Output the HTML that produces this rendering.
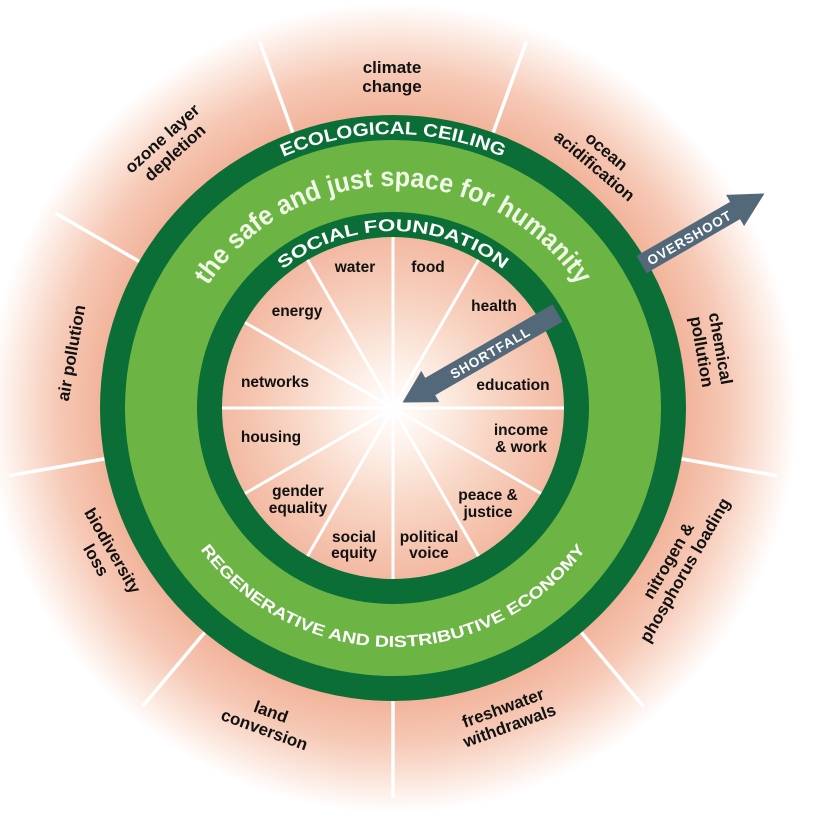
<!DOCTYPE html>
<html><head><meta charset="utf-8"><style>
html,body{margin:0;padding:0;background:#fff;}
svg{display:block;}
text{font-family:"Liberation Sans",Arial,sans-serif;font-weight:bold;}
</style></head><body>
<svg width="815" height="823" viewBox="0 0 815 823" xmlns="http://www.w3.org/2000/svg">
<defs>
<radialGradient id="og" cx="393" cy="408" r="405" gradientUnits="userSpaceOnUse">
<stop offset="0.72" stop-color="#f2b39a"/>
<stop offset="0.83" stop-color="#f6c9b6"/>
<stop offset="0.93" stop-color="#fce9e0"/>
<stop offset="1" stop-color="#ffffff"/>
</radialGradient>
<radialGradient id="ig" cx="393" cy="408" r="171" gradientUnits="userSpaceOnUse">
<stop offset="0" stop-color="#ffffff"/>
<stop offset="0.25" stop-color="#fdf0e8"/>
<stop offset="0.6" stop-color="#f8d4c3"/>
<stop offset="1" stop-color="#f3b9a2"/>
</radialGradient>
<path id="pEco" d="M119 408 A274 274 0 0 1 667 408"/>
<path id="pSafe" d="M171 408 A222 222 0 0 1 615 408"/>
<path id="pSoc" d="M216 408 A177 177 0 0 1 570 408"/>
<path id="pReg" d="M154 408 A239 239 0 0 0 632 408"/>
</defs>
<circle cx="393" cy="408" r="405" fill="url(#og)"/>
<g stroke="#fff" stroke-width="3.5">
<g transform="rotate(20 393 408)"><line x1="393" y1="115" x2="393" y2="18"/></g>
<g transform="rotate(60 393 408)"><line x1="393" y1="115" x2="393" y2="18"/></g>
<g transform="rotate(100 393 408)"><line x1="393" y1="115" x2="393" y2="18"/></g>
<g transform="rotate(140 393 408)"><line x1="393" y1="115" x2="393" y2="18"/></g>
<g transform="rotate(180 393 408)"><line x1="393" y1="115" x2="393" y2="18"/></g>
<g transform="rotate(220 393 408)"><line x1="393" y1="115" x2="393" y2="18"/></g>
<g transform="rotate(260 393 408)"><line x1="393" y1="115" x2="393" y2="18"/></g>
<g transform="rotate(300 393 408)"><line x1="393" y1="115" x2="393" y2="18"/></g>
<g transform="rotate(340 393 408)"><line x1="393" y1="115" x2="393" y2="18"/></g>
</g>
<circle cx="393" cy="408" r="293" fill="#0b6e37"/>
<circle cx="393" cy="408" r="268" fill="#6cb545"/>
<circle cx="393" cy="408" r="196" fill="#0b6e37"/>
<circle cx="393" cy="408" r="171" fill="url(#ig)"/>
<g stroke="#fff" stroke-width="3">
<line x1="393" y1="237" x2="393" y2="579"/>
<line x1="222" y1="408" x2="564" y2="408"/>
<g transform="rotate(30 393 408)"><line x1="393" y1="237" x2="393" y2="579"/><line x1="222" y1="408" x2="564" y2="408"/></g>
<g transform="rotate(60 393 408)"><line x1="393" y1="237" x2="393" y2="579"/><line x1="222" y1="408" x2="564" y2="408"/></g>
</g>
<text font-size="18" fill="#fff"><textPath href="#pEco" startOffset="50%" text-anchor="middle" textLength="226" lengthAdjust="spacingAndGlyphs">ECOLOGICAL CEILING</textPath></text>
<text font-size="27" fill="#f0f8e6"><textPath href="#pSafe" startOffset="50%" text-anchor="middle" textLength="438" lengthAdjust="spacingAndGlyphs">the safe and just space for humanity</textPath></text>
<text font-size="17" fill="#fff"><textPath href="#pSoc" startOffset="50%" text-anchor="middle" textLength="238" lengthAdjust="spacingAndGlyphs">SOCIAL FOUNDATION</textPath></text>
<text font-size="16" fill="#fff"><textPath href="#pReg" startOffset="50%" text-anchor="middle" textLength="448" lengthAdjust="spacingAndGlyphs">REGENERATIVE AND DISTRIBUTIVE ECONOMY</textPath></text>
<g font-size="15.5" fill="#111" text-anchor="middle">
<text x="355" y="272">water</text>
<text x="428" y="272">food</text>
<text x="297" y="316">energy</text>
<text x="494" y="311">health</text>
<text x="275" y="387">networks</text>
<text x="513" y="390">education</text>
<text x="271" y="442">housing</text>
<text x="521" y="435">income</text><text x="521" y="452">&amp; work</text>
<text x="298" y="496">gender</text><text x="298" y="513">equality</text>
<text x="488" y="500">peace &amp;</text><text x="488" y="517">justice</text>
<text x="354" y="542">social</text><text x="354" y="558">equity</text>
<text x="429" y="542">political</text><text x="429" y="558">voice</text>
</g>
<g transform="rotate(-30 393 408)" fill="#53697a">
<rect x="680" y="398" width="110" height="20"/>
<polygon points="788,390 822,408 788,426"/>
<rect x="433" y="398" width="150" height="20"/>
<polygon points="436,390 404,408 436,426"/>
<text x="735" y="413.5" font-size="13.5" fill="#fff" text-anchor="middle" style="letter-spacing:1px">OVERSHOOT</text>
<text x="505" y="413.5" font-size="13.5" fill="#fff" text-anchor="middle" style="letter-spacing:1px">SHORTFALL</text>
</g>
<g font-size="17" fill="#111" text-anchor="middle">
<g transform="translate(392,76)"><text y="-3">climate</text><text y="16">change</text></g>
<g transform="translate(601,158) rotate(40)"><text y="-3">ocean</text><text y="16">acidification</text></g>
<g transform="translate(712,350) rotate(80)"><text y="-3">chemical</text><text y="16">pollution</text></g>
<g transform="translate(676,565) rotate(-60)"><text y="-3">nitrogen &amp;</text><text y="16">phosphorus loading</text></g>
<g transform="translate(506,716) rotate(-20)"><text y="-3">freshwater</text><text y="16">withdrawals</text></g>
<g transform="translate(268,720) rotate(20)"><text y="-3">land</text><text y="16">conversion</text></g>
<g transform="translate(105,555) rotate(60)"><text y="-3">biodiversity</text><text y="16">loss</text></g>
<g transform="translate(72,353) rotate(-80)"><text y="5">air pollution</text></g>
<g transform="translate(168,145) rotate(-42)"><text y="-3">ozone layer</text><text y="16">depletion</text></g>
</g>
</svg>
</body></html>
